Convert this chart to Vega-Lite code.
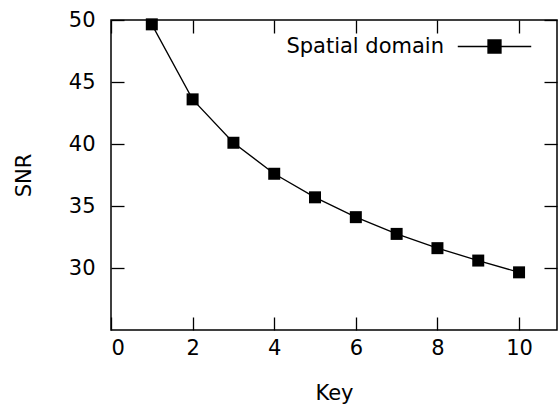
{
  "$schema": "https://vega.github.io/schema/vega-lite/v6.json",
  "width": 446,
  "height": 310,
  "autosize": {"type": "none"},
  "padding": {"left": 111, "top": 20, "right": 3, "bottom": 77},
  "background": "white",
  "config": {
    "view": {"stroke": "black", "strokeWidth": 1.5},
    "font": "DejaVu Sans",
    "axis": {
      "grid": false,
      "domain": false,
      "tickColor": "black",
      "tickSize": -13,
      "tickWidth": 1.3,
      "labelFont": "DejaVu Sans",
      "labelFontSize": 21,
      "labelColor": "black",
      "titleFont": "DejaVu Sans",
      "titleFontSize": 21,
      "titleFontWeight": "normal",
      "titleColor": "black"
    }
  },
  "data": {
    "values": [
      {"key": 1, "snr": 49.65, "series": "Spatial domain"},
      {"key": 2, "snr": 43.6, "series": "Spatial domain"},
      {"key": 3, "snr": 40.1, "series": "Spatial domain"},
      {"key": 4, "snr": 37.6, "series": "Spatial domain"},
      {"key": 5, "snr": 35.7, "series": "Spatial domain"},
      {"key": 6, "snr": 34.1, "series": "Spatial domain"},
      {"key": 7, "snr": 32.75, "series": "Spatial domain"},
      {"key": 8, "snr": 31.6, "series": "Spatial domain"},
      {"key": 9, "snr": 30.6, "series": "Spatial domain"},
      {"key": 10, "snr": 29.65, "series": "Spatial domain"}
    ]
  },
  "layer": [
    {
      "mark": {"type": "line", "strokeWidth": 1.3, "clip": true},
      "encoding": {
        "x": {"field": "key", "type": "quantitative", "scale": {"domain": [0, 10.93], "nice": false, "zero": false},
              "axis": {"orient": "bottom", "values": [0, 2, 4, 6, 8, 10], "title": "Key", "labelPadding": 20, "titlePadding": 24}},
        "y": {"field": "snr", "type": "quantitative", "scale": {"domain": [25, 50], "nice": false, "zero": false},
              "axis": {"orient": "left", "values": [30, 35, 40, 45, 50], "title": "SNR", "labelPadding": 29, "titlePadding": 34}},
        "color": {"field": "series", "type": "nominal", "scale": {"range": ["black"]},
                  "legend": {"title": null, "orient": "none", "legendX": 373, "legendY": 16,
                             "symbolType": "M-5.65,0H5.65M-1,-1H1V1H-1Z", "symbolSize": 169,
                             "symbolFillColor": "black", "symbolStrokeColor": "black", "symbolStrokeWidth": 1.3,
                             "labelAlign": "right", "labelOffset": -61, "labelFontSize": 21, "labelColor": "black",
                             "labelFont": "DejaVu Sans", "labelLimit": 300}}
      }
    },
    {
      "mark": {"type": "point", "shape": "square", "filled": true, "size": 144, "color": "black", "opacity": 1},
      "encoding": {
        "x": {"field": "key", "type": "quantitative",
              "axis": {"orient": "top", "values": [0, 2, 4, 6, 8, 10], "labels": false, "title": null}},
        "y": {"field": "snr", "type": "quantitative",
              "axis": {"orient": "right", "values": [30, 35, 40, 45, 50], "labels": false, "title": null}}
      }
    }
  ],
  "resolve": {"axis": {"x": "independent", "y": "independent"}}
}
